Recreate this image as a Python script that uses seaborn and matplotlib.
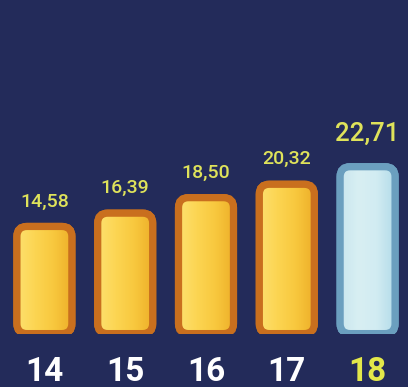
import matplotlib
matplotlib.use("Agg")
import numpy as np
import pandas as pd
import matplotlib.pyplot as plt
from matplotlib import font_manager
from matplotlib.patches import FancyBboxPatch
from matplotlib.colors import LinearSegmentedColormap
import seaborn as sns

# Data
ages = ["14", "15", "16", "17", "18"]
values = [14.58, 16.39, 18.50, 20.32, 22.71]
value_labels = ["14,58", "16,39", "18,50", "20,32", "22,71"]

# Styling
BG = "#232b5a"
fills = ["#fcd452", "#fcd452", "#fcd452", "#fcd452", "#d3ebf0"]
shades = [
    ["#fde06e", "#fcd552", "#f8c83e", "#eeb02a"],
    ["#fde06e", "#fcd552", "#f8c83e", "#eeb02a"],
    ["#fde06e", "#fcd552", "#f8c83e", "#eeb02a"],
    ["#fde06e", "#fcd552", "#f8c83e", "#eeb02a"],
    ["#c9e6ee", "#d8eff3", "#d2ecf2", "#b4dcea"],
]
edges = ["#c96f1e", "#c96f1e", "#c96f1e", "#c96f1e", "#6b9fbf"]
tick_colors = ["#ffffff", "#ffffff", "#ffffff", "#ffffff", "#e3e84a"]
value_color = "#dfe35a"
value_sizes = [14, 14, 14, 14, 18.5]
value_offsets = [18, 18, 18, 18, 24]

installed = {f.name for f in font_manager.fontManager.ttflist}
tick_family = "Liberation Sans Narrow" if "Liberation Sans Narrow" in installed else "Roboto"

sns.set_theme(style="white")
plt.rcParams["font.family"] = ["Roboto", "DejaVu Sans"]

fig = plt.figure(figsize=(4.08, 3.87), dpi=100, facecolor=BG)
ax = fig.add_axes([0.0098, 0.138, 0.9902, 0.862])
ax.set_facecolor(BG)

df = pd.DataFrame({"age": ages, "value": values})
sns.barplot(data=df, x="age", y="value", hue="age", palette=fills,
            legend=False, width=0.68, saturation=1, ax=ax)

ax.set_xlim(-0.5, 4.5)
ax.set_ylim(0, 45.4)

# pixel scale of each data unit, used to keep the rounded corners circular
fig.canvas.draw()
p0 = ax.transData.transform((0, 0))
p1 = ax.transData.transform((1, 1))
px_x = p1[0] - p0[0]
px_y = p1[1] - p0[1]
aspect = px_x / px_y
radius = 10.0 / px_x

bars = list(ax.patches)
for i, bar in enumerate(bars):
    x, y = bar.get_x(), bar.get_y()
    w, h = bar.get_width(), bar.get_height()
    bar.remove()
    shape = FancyBboxPatch(
        (x, y), w, h,
        boxstyle=f"round,pad=0,rounding_size={radius}",
        mutation_aspect=aspect,
        facecolor=fills[i], edgecolor=edges[i], linewidth=5.2, zorder=2,
    )
    ax.add_patch(shape)
    cmap = LinearSegmentedColormap.from_list(f"shade{i}", shades[i])
    grad = np.linspace(0, 1, 64).reshape(1, -1)
    img = ax.imshow(grad, cmap=cmap, aspect="auto", extent=(x, x + w, y, y + h),
                    zorder=2.5, interpolation="bilinear")
    img.set_clip_path(shape)
    outline = FancyBboxPatch(
        (x, y), w, h,
        boxstyle=f"round,pad=0,rounding_size={radius}",
        mutation_aspect=aspect,
        facecolor="none", edgecolor=edges[i], linewidth=5.2, zorder=3,
    )
    ax.add_patch(outline)

ax.set_xlim(-0.5, 4.5)
ax.set_ylim(0, 45.4)

for i, (v, lab) in enumerate(zip(values, value_labels)):
    ax.annotate(lab, (i, v), xytext=(0, value_offsets[i]), textcoords="offset points",
                ha="center", va="center", color=value_color,
                fontsize=value_sizes[i], fontweight="medium")

ax.set_xlabel("")
ax.set_ylabel("")
ax.set_yticks([])
ax.tick_params(axis="x", length=0, pad=16)
for lbl, col in zip(ax.get_xticklabels(), tick_colors):
    lbl.set_color(col)
    lbl.set_family([tick_family, "DejaVu Sans"])
    lbl.set_fontweight("bold")
    lbl.set_fontsize(24)
for s in ax.spines.values():
    s.set_visible(False)

fig.savefig("out.png", dpi=100, facecolor=BG)
